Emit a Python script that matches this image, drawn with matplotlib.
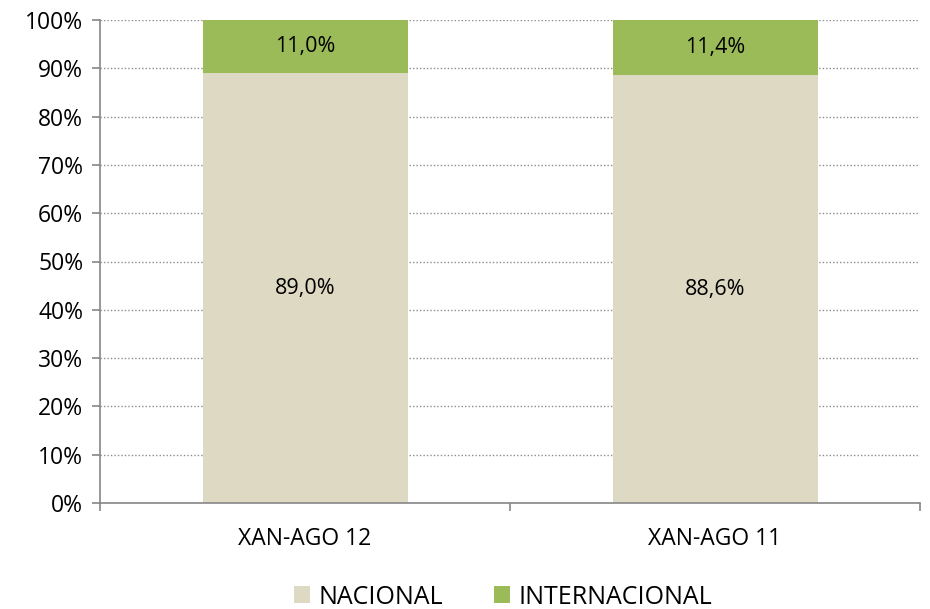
import matplotlib
matplotlib.use("Agg")
import matplotlib.pyplot as plt
from matplotlib.ticker import FuncFormatter

plt.rcParams['font.family'] = ['Open Sans', 'DejaVu Sans']

categories = ["XAN-AGO 12", "XAN-AGO 11"]
nacional = [89.0, 88.6]
internacional = [11.0, 11.4]

c_nac = "#DDD9C3"
c_int = "#9BBB59"
axis_grey = "#868686"

fig = plt.figure(figsize=(9.3, 6.09), dpi=100)
ax = fig.add_axes([100 / 930, 106 / 609, 820 / 930, 483 / 609])

x = list(range(len(categories)))
ax.bar(x, nacional, width=0.5, color=c_nac, label="NACIONAL", zorder=2)
ax.bar(x, internacional, width=0.5, bottom=nacional, color=c_int,
       label="INTERNACIONAL", zorder=2)

for i in x:
    ax.text(i, nacional[i] / 2, f"{nacional[i]:.1f}%".replace(".", ","),
            ha="center", va="center", fontsize=15.5, color="black", zorder=3)
    ax.text(i, nacional[i] + internacional[i] / 2,
            f"{internacional[i]:.1f}%".replace(".", ","),
            ha="center", va="center", fontsize=15.5, color="black", zorder=3)

ax.set_xlim(-0.5, len(categories) - 0.5)
ax.set_ylim(0, 100)
ax.set_yticks(range(0, 101, 10))
ax.yaxis.set_major_formatter(FuncFormatter(lambda v, p: f"{int(v)}%"))
ax.tick_params(axis="y", labelsize=16.5, length=6, color=axis_grey, width=1.2, pad=6)

# category boundaries get the tick marks, names sit in the middle
ax.set_xticks([-0.5, 0.5, 1.5])
ax.set_xticklabels([])
ax.set_xticks(x, minor=True)
ax.set_xticklabels(categories, minor=True)
ax.tick_params(axis="x", which="major", length=6, color=axis_grey, width=1.2)
ax.tick_params(axis="x", which="minor", length=0, labelsize=16.5, pad=17)

ax.grid(axis="y", linestyle=(0, (1, 1.5)), color="#8c8c8c", linewidth=1, zorder=1)
ax.set_axisbelow(True)

for s in ["top", "right"]:
    ax.spines[s].set_visible(False)
for s in ["left", "bottom"]:
    ax.spines[s].set_color(axis_grey)
    ax.spines[s].set_linewidth(1.2)

fig.legend(loc="center", bbox_to_anchor=(0.541, 12 / 609), ncol=2, frameon=False,
           fontsize=18, handlelength=0.64, handleheight=0.64, handletextpad=0.36,
           columnspacing=2.0, borderpad=0, borderaxespad=0)

fig.savefig("out.png", dpi=100)
